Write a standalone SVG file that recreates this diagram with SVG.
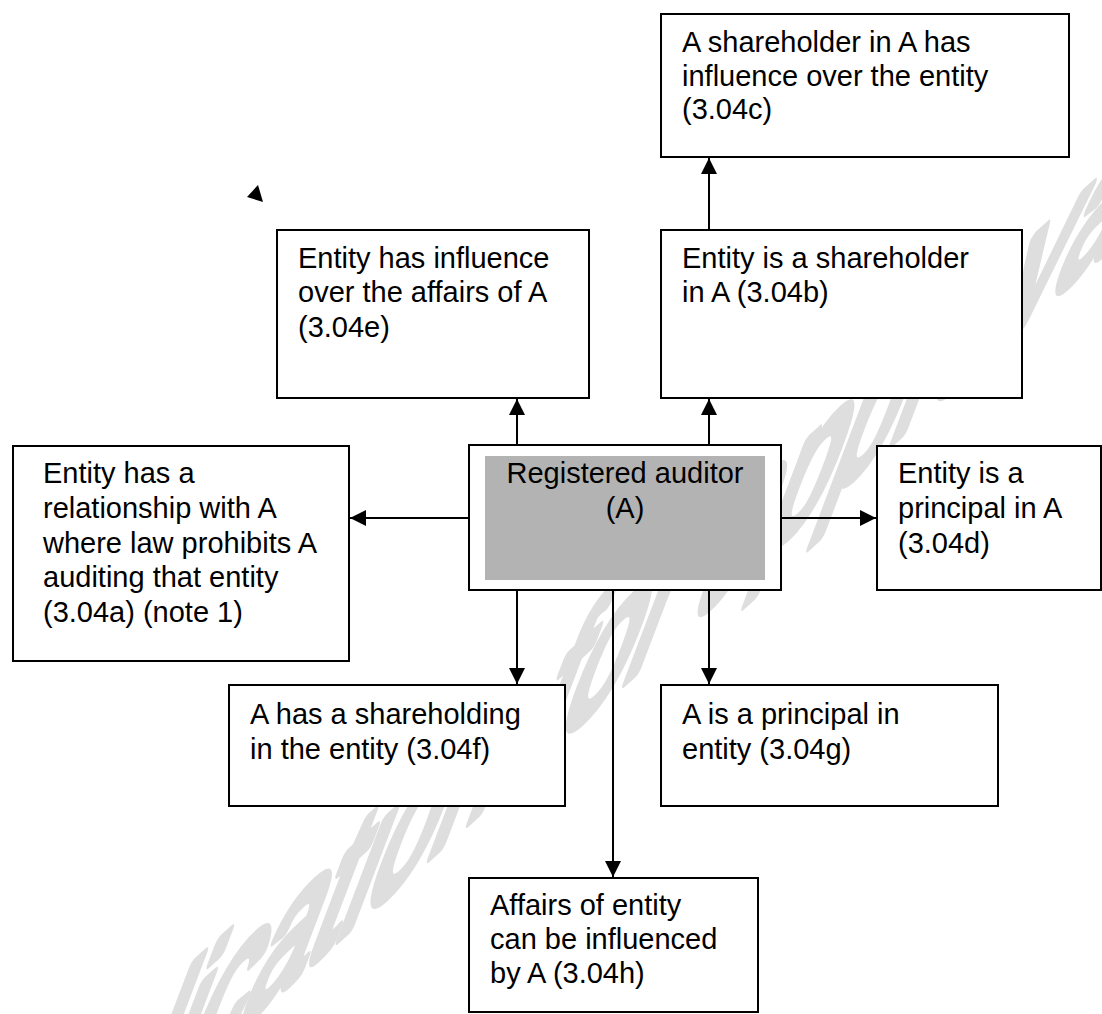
<svg xmlns="http://www.w3.org/2000/svg" width="1102" height="1014" viewBox="0 0 1102 1014">
<defs>
<style>
.box{fill:#fff;stroke:#000;stroke-width:2}
.t{font-family:"Liberation Sans",Arial,sans-serif;font-size:29px;fill:#000}
.c{stroke:#000;stroke-width:2;fill:none}
.wm{font-family:"Liberation Sans",Arial,sans-serif;font-size:150px;fill:#dedede;stroke:#dedede;stroke-width:11;stroke-linejoin:round;stroke-linecap:round}
</style>
<marker id="ah" markerUnits="userSpaceOnUse" markerWidth="16" markerHeight="16" viewBox="0 0 16 16" refX="16" refY="8" orient="auto">
<path d="M0,0 L16,8 L0,16 Z" fill="#000"/>
</marker>
</defs>
<rect width="1102" height="1014" fill="#fff"/>
<g id="watermark">
<text class="wm" transform="matrix(0.78,-0.70,-0.55,1.45,125,1130)">lication for approval</text>
</g>
<g id="connectors">
<line class="c" x1="517" y1="445" x2="517" y2="399" marker-end="url(#ah)"/>
<line class="c" x1="709" y1="445" x2="709" y2="399" marker-end="url(#ah)"/>
<line class="c" x1="709" y1="230" x2="709" y2="158" marker-end="url(#ah)"/>
<line class="c" x1="469" y1="518" x2="350" y2="518" marker-end="url(#ah)"/>
<line class="c" x1="781" y1="518" x2="876" y2="518" marker-end="url(#ah)"/>
<line class="c" x1="517" y1="590" x2="517" y2="684" marker-end="url(#ah)"/>
<line class="c" x1="709" y1="590" x2="709" y2="684" marker-end="url(#ah)"/>
<line class="c" x1="613" y1="590" x2="613" y2="877" marker-end="url(#ah)"/>
<polygon points="258,185 247,197 263,202" fill="#000"/>
</g>
<g id="node-c">
<rect class="box" x="661" y="14" width="408" height="143"/>
<text class="t" x="682" y="52">A shareholder in A has</text>
<text class="t" x="682" y="86">influence over the entity</text>
<text class="t" x="682" y="119">(3.04c)</text>
</g>
<g id="node-e">
<rect class="box" x="277" y="230" width="312" height="168"/>
<text class="t" x="298" y="268">Entity has influence</text>
<text class="t" x="298" y="302">over the affairs of A</text>
<text class="t" x="298" y="337">(3.04e)</text>
</g>
<g id="node-b">
<rect class="box" x="661" y="230" width="361" height="168"/>
<text class="t" x="682" y="268">Entity is a shareholder</text>
<text class="t" x="682" y="302">in A (3.04b)</text>
</g>
<g id="node-center">
<rect class="box" x="469" y="445" width="312" height="145" stroke-width="2.5"/>
<rect x="485" y="456" width="280" height="124" fill="#b3b3b3"/>
<text class="t" x="625" y="483" text-anchor="middle">Registered auditor</text>
<text class="t" x="625" y="518" text-anchor="middle">(A)</text>
</g>
<g id="node-a">
<rect class="box" x="13" y="446" width="336" height="215"/>
<text class="t" x="43" y="483">Entity has a</text>
<text class="t" x="43" y="518">relationship with A</text>
<text class="t" x="43" y="553">where law prohibits A</text>
<text class="t" x="43" y="587">auditing that entity</text>
<text class="t" x="43" y="622">(3.04a) (note 1)</text>
</g>
<g id="node-d">
<rect class="box" x="877" y="446" width="224" height="144"/>
<text class="t" x="898" y="483">Entity is a</text>
<text class="t" x="898" y="518">principal in A</text>
<text class="t" x="898" y="553">(3.04d)</text>
</g>
<g id="node-f">
<rect class="box" x="229" y="685" width="336" height="121"/>
<text class="t" x="250" y="724">A has a shareholding</text>
<text class="t" x="250" y="759">in the entity (3.04f)</text>
</g>
<g id="node-g">
<rect class="box" x="661" y="685" width="337" height="121"/>
<text class="t" x="682" y="724">A is a principal in</text>
<text class="t" x="682" y="759">entity (3.04g)</text>
</g>
<g id="node-h">
<rect class="box" x="469" y="878" width="289" height="134"/>
<text class="t" x="490" y="915">Affairs of entity</text>
<text class="t" x="490" y="949">can be influenced</text>
<text class="t" x="490" y="983">by A (3.04h)</text>
</g>
</svg>
